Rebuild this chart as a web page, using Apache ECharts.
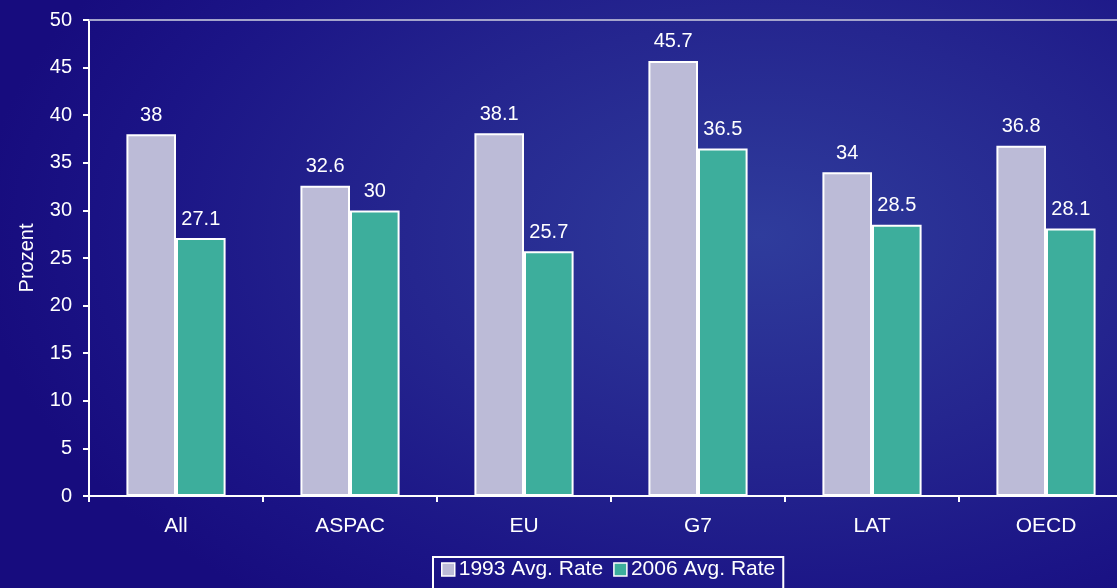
<!DOCTYPE html>
<html>
<head>
<meta charset="utf-8">
<script src="https://cdn.jsdelivr.net/npm/echarts@6/dist/echarts.min.js"></script>
<style>
  html, body { margin: 0; padding: 0; }
  body {
    width: 1117px; height: 588px; overflow: hidden;
    background: radial-gradient(ellipse 70% 80% at 68% 40%, #2f3c9c 0%, #25268f 45%, #1b1486 80%, #170c7e 100%);
  }
  /* the plot runs past the right edge of the page */
  #chart { width: 1135px; height: 588px; }
</style>
</head>
<body>
<div id="chart"></div>
<script>
// Average rates by region, in percent
const categories = ['All', 'ASPAC', 'EU', 'G7', 'LAT', 'OECD'];
const rate1993 = [38, 32.6, 38.1, 45.7, 34, 36.8];
const rate2006 = [27.1, 30, 25.7, 36.5, 28.5, 28.1];
const seriesNames = ['1993 Avg. Rate', '2006 Avg. Rate'];

const font = 'Liberation Sans, Arial, sans-serif';
const chart = echarts.init(document.getElementById('chart'), null, { renderer: 'canvas' });

const labelStyle = {
  show: true, position: 'top', distance: 9,
  color: '#ffffff', fontSize: 20, fontFamily: font
};

chart.setOption({
  backgroundColor: 'transparent',
  animation: false,
  grid: { left: 89, right: 2, top: 20, bottom: 92, containLabel: false },
  legend: {
    data: seriesNames,
    left: 433, top: 557,
    itemWidth: 13, itemHeight: 13, itemGap: 10,
    padding: [2, 8, 14, 8],
    borderColor: '#ffffff', borderWidth: 2,
    textStyle: { color: '#ffffff', fontSize: 21, fontFamily: font, padding: [0, 0, 0, -1] },
    itemStyle: { borderColor: '#ffffff', borderWidth: 1.5 },
    icon: 'rect'
  },
  xAxis: [{
    type: 'category',
    data: categories,
    axisLine: { lineStyle: { color: '#ffffff', width: 2 } },
    axisTick: { show: true, alignWithLabel: false, length: 6, lineStyle: { color: '#ffffff', width: 2 } },
    axisLabel: { color: '#ffffff', fontSize: 21, fontFamily: font, margin: 20 }
  }, {
    type: 'category',
    position: 'top',
    data: categories,
    axisLine: { lineStyle: { color: '#a4a4cc', width: 2 } },
    axisTick: { show: false },
    axisLabel: { show: false }
  }],
  yAxis: {
    type: 'value',
    min: 0, max: 50, interval: 5,
    name: 'Prozent',
    nameLocation: 'middle',
    nameGap: 52,
    nameTextStyle: { color: '#ffffff', fontSize: 20, fontFamily: font },
    axisLine: { show: true, lineStyle: { color: '#ffffff', width: 2 } },
    axisTick: { show: true, length: 6, lineStyle: { color: '#ffffff', width: 2 } },
    axisLabel: { color: '#ffffff', fontSize: 20, fontFamily: font, margin: 17 },
    splitLine: { show: false }
  },
  series: [{
    name: seriesNames[0],
    type: 'bar',
    data: rate1993,
    barGap: '0%',
    barCategoryGap: '43%',
    itemStyle: { color: '#bcbbd7', borderColor: '#ffffff', borderWidth: 2 },
    label: labelStyle
  }, {
    name: seriesNames[1],
    type: 'bar',
    data: rate2006,
    itemStyle: { color: '#3dae9c', borderColor: '#ffffff', borderWidth: 2 },
    label: labelStyle
  }]
});
</script>
</body>
</html>
